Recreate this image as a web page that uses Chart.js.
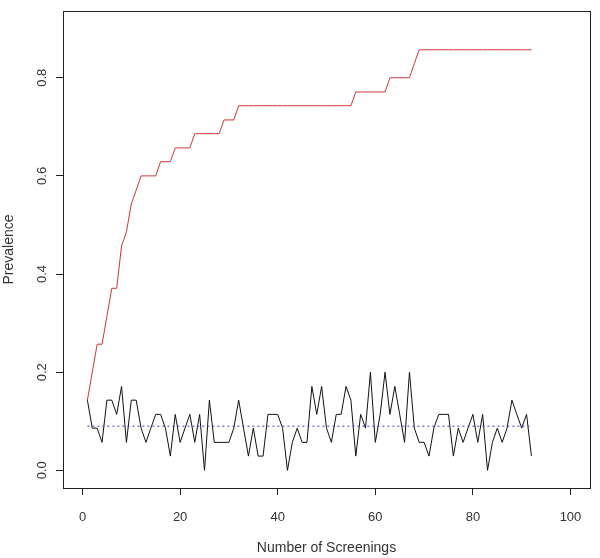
<!DOCTYPE html>
<html>
<head>
<meta charset="utf-8">
<script src="https://cdn.jsdelivr.net/npm/chart.js@4"></script>
<style>
  body { margin: 0; background: #fff; }
  canvas { display: block; }
</style>
</head>
<body>
<canvas id="prev-chart" width="600" height="558"></canvas>
<script>
// Screening rounds
const screenings = [
    1, 2, 3, 4, 5, 6, 7, 8, 9, 10, 11, 12, 13, 14, 15, 16, 17, 18, 19, 20,
    21, 22, 23, 24, 25, 26, 27, 28, 29, 30, 31, 32, 33, 34, 35, 36, 37, 38, 39, 40,
    41, 42, 43, 44, 45, 46, 47, 48, 49, 50, 51, 52, 53, 54, 55, 56, 57, 58, 59, 60,
    61, 62, 63, 64, 65, 66, 67, 68, 69, 70, 71, 72, 73, 74, 75, 76, 77, 78, 79, 80,
    81, 82, 83, 84, 85, 86, 87, 88, 89, 90, 91, 92
];

// Cumulative prevalence (red)
const cumulativePrev = [
    0.143, 0.2, 0.257, 0.257, 0.314, 0.371, 0.371, 0.457, 0.486, 0.543,
    0.571, 0.6, 0.6, 0.6, 0.6, 0.629, 0.629, 0.629, 0.657, 0.657,
    0.657, 0.657, 0.686, 0.686, 0.686, 0.686, 0.686, 0.686, 0.714, 0.714,
    0.714, 0.743, 0.743, 0.743, 0.743, 0.743, 0.743, 0.743, 0.743, 0.743,
    0.743, 0.743, 0.743, 0.743, 0.743, 0.743, 0.743, 0.743, 0.743, 0.743,
    0.743, 0.743, 0.743, 0.743, 0.743, 0.771, 0.771, 0.771, 0.771, 0.771,
    0.771, 0.771, 0.8, 0.8, 0.8, 0.8, 0.8, 0.829, 0.857, 0.857,
    0.857, 0.857, 0.857, 0.857, 0.857, 0.857, 0.857, 0.857, 0.857, 0.857,
    0.857, 0.857, 0.857, 0.857, 0.857, 0.857, 0.857, 0.857, 0.857, 0.857,
    0.857, 0.857
];

// Prevalence at each screening (black)
const screeningPrev = [
    0.143, 0.086, 0.086, 0.057, 0.143, 0.143, 0.114, 0.171, 0.057, 0.143,
    0.143, 0.086, 0.057, 0.086, 0.114, 0.114, 0.086, 0.029, 0.114, 0.057,
    0.086, 0.114, 0.057, 0.114, 0, 0.143, 0.057, 0.057, 0.057, 0.057,
    0.086, 0.143, 0.086, 0.029, 0.086, 0.029, 0.029, 0.114, 0.114, 0.114,
    0.086, 0, 0.057, 0.086, 0.057, 0.057, 0.171, 0.114, 0.171, 0.086,
    0.057, 0.114, 0.114, 0.171, 0.143, 0.029, 0.114, 0.086, 0.2, 0.057,
    0.114, 0.2, 0.114, 0.171, 0.114, 0.057, 0.2, 0.086, 0.057, 0.057,
    0.029, 0.086, 0.114, 0.114, 0.114, 0.029, 0.086, 0.057, 0.086, 0.114,
    0.057, 0.114, 0, 0.057, 0.086, 0.057, 0.086, 0.143, 0.114, 0.086,
    0.114, 0.029
];

// Mean level (blue dotted)
const meanPrev = 0.09;

const xTicks = [0, 20, 40, 60, 80, 100];
const yTicks = [0, 0.2, 0.4, 0.6, 0.8];

const textColor = '#333';
const fontFamily = '"Liberation Sans", Arial, sans-serif';

function toPoints(xs, ys) {
    return xs.map((x, i) => ({ x: x, y: ys[i] }));
}

// R-style box around the plot region + rotated y tick labels
const boxPlugin = {
    id: 'rbox',
    afterDraw(chart) {
        const { ctx, chartArea } = chart;
        ctx.save();
        ctx.strokeStyle = '#222';
        ctx.lineWidth = 1;
        ctx.strokeRect(Math.round(chartArea.left) + 0.5, Math.round(chartArea.top) + 0.5,
            Math.round(chartArea.right - chartArea.left), Math.round(chartArea.bottom - chartArea.top));

        const yScale = chart.scales.y;
        ctx.fillStyle = textColor;
        ctx.font = '13px ' + fontFamily;
        ctx.textAlign = 'center';
        ctx.textBaseline = 'middle';
        yTicks.forEach(v => {
            const py = yScale.getPixelForValue(v);
            ctx.save();
            ctx.translate(42, py);
            ctx.rotate(-Math.PI / 2);
            ctx.fillText(v.toFixed(1), 0, 0);
            ctx.restore();
        });
        ctx.restore();
    }
};

const ctx = document.getElementById('prev-chart').getContext('2d');

new Chart(ctx, {
    type: 'line',
    data: {
        datasets: [
            {
                label: 'Mean',
                data: toPoints([screenings[0], screenings[screenings.length - 1]], [meanPrev, meanPrev]),
                borderColor: '#3c3cb4',
                borderWidth: 1,
                borderDash: [2, 3],
                pointRadius: 0,
                fill: false
            },
            {
                label: 'Screening',
                data: toPoints(screenings, screeningPrev),
                borderColor: '#111',
                borderWidth: 1,
                pointRadius: 0,
                fill: false,
                tension: 0
            },
            {
                label: 'Cumulative',
                data: toPoints(screenings, cumulativePrev),
                borderColor: '#d03535',
                borderWidth: 1,
                pointRadius: 0,
                fill: false,
                tension: 0
            }
        ]
    },
    options: {
        responsive: false,
        animation: false,
        devicePixelRatio: 1,
        layout: {
            padding: { top: 11, right: 10, left: 0, bottom: 0 }
        },
        plugins: {
            legend: { display: false },
            tooltip: { enabled: false }
        },
        scales: {
            x: {
                type: 'linear',
                min: -4,
                max: 104,
                afterBuildTicks: scale => { scale.ticks = xTicks.map(v => ({ value: v })); },
                afterFit: scale => { scale.height = 70; },
                grid: {
                    drawOnChartArea: false,
                    drawTicks: true,
                    tickLength: 7,
                    color: '#222'
                },
                border: { display: false },
                ticks: {
                    color: textColor,
                    padding: 15,
                    maxRotation: 0,
                    font: { family: fontFamily, size: 13 },
                    callback: v => v
                },
                title: {
                    display: true,
                    text: 'Number of Screenings',
                    color: textColor,
                    padding: { top: 0, bottom: 1 },
                    font: { family: fontFamily, size: 14 }
                }
            },
            y: {
                min: -0.036,
                max: 0.936,
                afterBuildTicks: scale => { scale.ticks = yTicks.map(v => ({ value: v })); },
                afterFit: scale => { scale.width = 63; },
                grid: {
                    drawOnChartArea: false,
                    drawTicks: true,
                    tickLength: 7,
                    color: '#222'
                },
                border: { display: false },
                ticks: { display: false },
                title: {
                    display: true,
                    text: 'Prevalence',
                    color: textColor,
                    padding: { top: 1, bottom: 0 },
                    font: { family: fontFamily, size: 14 }
                }
            }
        }
    },
    plugins: [boxPlugin]
});
</script>
</body>
</html>
